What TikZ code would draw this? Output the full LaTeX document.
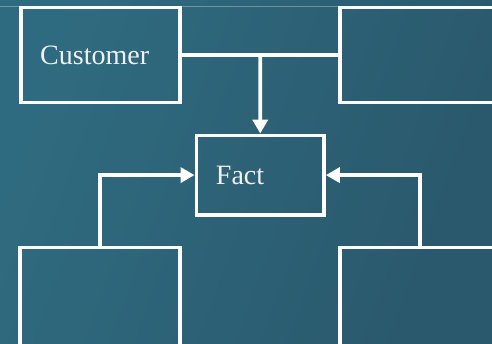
\documentclass[tikz,border=0pt]{standalone}
\usepackage{fontspec}
\setmainfont{Liberation Serif}
\usetikzlibrary{positioning,calc,arrows.meta}

\definecolor{bgleft}{RGB}{47,107,128}
\definecolor{bgright}{RGB}{42,88,108}
\definecolor{txt}{RGB}{240,240,240}

\begin{document}
\begin{tikzpicture}[x=1pt,y=-1pt,
		box/.style={draw=white, line width=3.8pt, inner xsep=19.5pt, inner ysep=0pt, align=left, text=txt, font=\fontsize{28}{31}\selectfont},
		link/.style={draw=white, line width=3.8pt},
		arr/.style={link, -{Triangle[length=14pt,width=15pt]}}]
			\useasboundingbox (0,0) rectangle (492,344);
			\clip (0,0) rectangle (492,344);
			\fill[left color=bgleft, right color=bgright, shading angle=70] (0,0) rectangle (492,344);
			\draw[white, opacity=0.3, line width=0.8pt] (0,6.5) -- (340,6.5);
			\node[box, text width=120.6pt, minimum height=95pt] (cust) at (100.5, 55) {Customer};
			\node[box, minimum width=160pt, minimum height=95pt] (tr) at (420.3, 55) {};
			\node[box, text width=88.5pt, minimum height=79.2pt] (fact) at (260.2, 175.1) {Fact};
			\node[box, minimum width=160pt, minimum height=110pt] (bl) at (100.3, 302.5) {};
			\node[box, minimum width=160pt, minimum height=110pt] (br) at (420.3, 302.5) {};
			\coordinate (top) at ($(cust.east)!0.5!(tr.west)$);
			\draw[link] (cust) -- (tr);
			\draw[arr] (top) -- (fact);
			\draw[arr] (bl) |- (fact);
			\draw[arr] (br) |- (fact);
			\end{tikzpicture}
\end{document}
